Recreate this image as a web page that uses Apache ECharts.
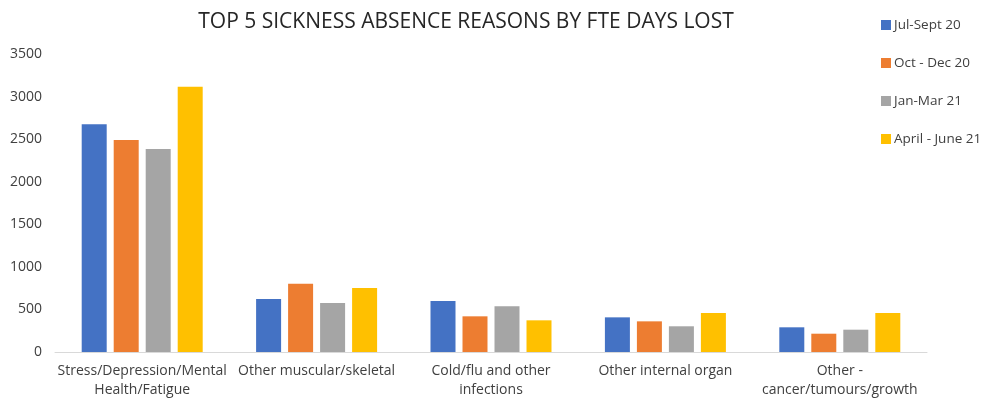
<!DOCTYPE html>
<html>
<head>
<meta charset="utf-8">
<script src="https://cdn.jsdelivr.net/npm/echarts@6/dist/echarts.min.js"></script>
<style>
  html, body { margin: 0; padding: 0; background: #fff; }
  #chart { width: 985px; height: 398px; }
</style>
</head>
<body>
<div id="chart"></div>
<script>
// Sickness absence reasons, FTE days lost per quarter
const categories = [
  'Stress/Depression/Mental\nHealth/Fatigue',
  'Other muscular/skeletal',
  'Cold/flu and other\ninfections',
  'Other internal organ',
  'Other -\ncancer/tumours/growth'
];
const seriesNames = ['Jul-Sept 20', 'Oct - Dec 20', 'Jan-Mar 21', 'April - June 21'];
const julSept20 = [2675, 623, 599, 407, 290];
const octDec20 = [2491, 803, 419, 360, 215];
const janMar21 = [2385, 576, 537, 302, 262];
const aprJun21 = [3114, 752, 372, 458, 458];
const yTicks = [0, 3500, 500];

const colors = ['#4472C4', '#ED7D31', '#A5A5A5', '#FFC000'];
const values = [julSept20, octDec20, janMar21, aprJun21];
const font = 'Open Sans, Liberation Sans, sans-serif';

const chart = echarts.init(document.getElementById('chart'));
chart.setOption({
  animation: false,
  color: colors,
  title: {
    text: 'TOP 5 SICKNESS ABSENCE REASONS BY FTE DAYS LOST',
    left: 461,
    textAlign: 'center',
    top: 7,
    textStyle: { fontFamily: font, fontSize: 21, fontWeight: 'normal', color: '#262626' }
  },
  legend: {
    orient: 'vertical',
    left: 876,
    top: 13,
    itemWidth: 10,
    itemHeight: 10,
    itemGap: 24,
    icon: 'rect',
    textStyle: { fontFamily: font, fontSize: 13.5, color: '#404040', padding: [0, 0, 0, -2] },
    data: seriesNames
  },
  grid: { left: 55, right: 58, top: 54, bottom: 46, outerBoundsMode: 'none' },
  xAxis: {
    type: 'category',
    data: categories,
    axisLine: { lineStyle: { color: '#D9D9D9' } },
    axisTick: { show: false },
    axisLabel: {
      interval: 0,
      margin: 10,
      fontFamily: font,
      fontSize: 14,
      color: '#404040',
      lineHeight: 19
    }
  },
  yAxis: {
    type: 'value',
    min: yTicks[0],
    max: yTicks[1],
    interval: yTicks[2],
    splitLine: { show: false },
    axisLine: { show: false },
    axisTick: { show: false },
    axisLabel: {
      fontFamily: font,
      fontSize: 14,
      color: '#404040',
      margin: 13,
      formatter: v => String(v)
    }
  },
  series: seriesNames.map((name, i) => ({
    name,
    type: 'bar',
    data: values[i],
    barWidth: 25,
    barGap: '28%',
    itemStyle: { color: colors[i] }
  }))
});
</script>
</body>
</html>
